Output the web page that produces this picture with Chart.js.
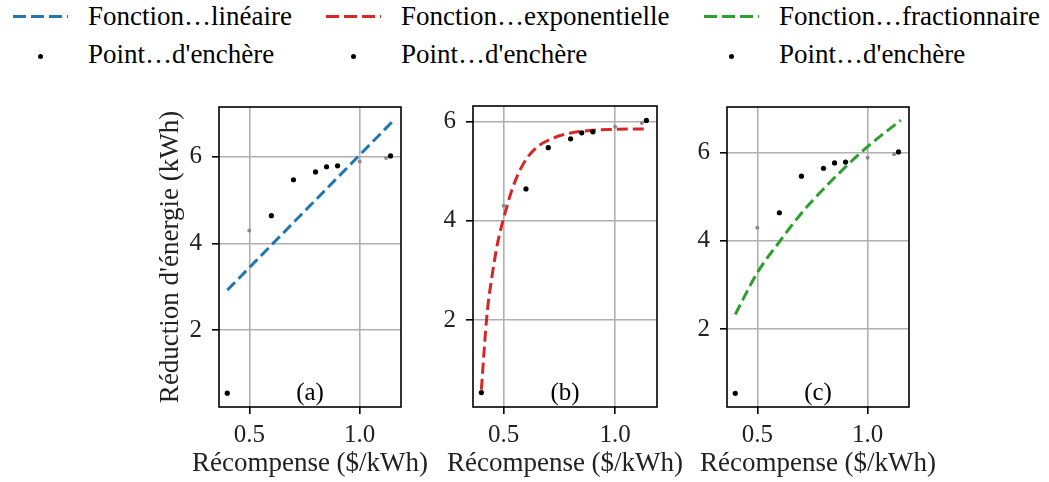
<!DOCTYPE html>
<html>
<head>
<meta charset="utf-8">
<script src="https://cdn.jsdelivr.net/npm/chart.js@4.4.1/dist/chart.umd.min.js"></script>
<style>
  body { margin: 0; width: 1049px; height: 482px; background: #fff; position: relative; overflow: hidden; font-family: 'Liberation Serif', serif; }
  .panel { position: absolute; top: 95px; height: 387px; }
  .leg { position: absolute; font-size: 27px; line-height: 27px; color: #000; white-space: nowrap; }
  .dash { position: absolute; height: 3px; width: 55px; }
  .dot { position: absolute; width: 5px; height: 5px; border-radius: 50%; background: #000; }
</style>
</head>
<body>
<div id="legend"></div>
<canvas id="pa" class="panel" width="300" height="387" style="left:140px"></canvas>
<canvas id="pb" class="panel" width="254" height="387" style="left:436px"></canvas>
<canvas id="pc" class="panel" width="250" height="387" style="left:690px"></canvas>
<script>
// bid points (same in every panel)
const bidX = [0.4, 0.5, 0.6, 0.7, 0.8, 0.85, 0.9, 1.0, 1.12, 1.14];
const bidY = [0.54, 4.3, 4.64, 5.47, 5.65, 5.77, 5.79, 5.89, 5.97, 6.02];

// fitted curves
const linX = [0.4, 1.15];
const linY = [2.92, 6.82];

const expX = [0.4, 0.425, 0.45, 0.475, 0.5, 0.54, 0.58, 0.62, 0.66, 0.7, 0.75, 0.85, 1.0, 1.15];
const expY = [0.6, 2.1, 2.95, 3.6, 4.05, 4.66, 5.08, 5.35, 5.52, 5.62, 5.71, 5.8, 5.84, 5.85];

const fracX = [0.4, 0.5, 0.6, 0.7, 0.8, 0.9, 1.0, 1.15];
const fracY = [2.33, 3.28, 3.98, 4.63, 5.18, 5.68, 6.14, 6.74];

// ticks
const xTicks = [0.5, 1.0];
const xTickLabels = ['0.5', '1.0'];
const yTicks = [2, 4, 6];
const yTickLabels = ['2', '4', '6'];

const seriesNames = ['Fonction…linéaire', 'Fonction…exponentielle', 'Fonction…fractionnaire'];
const pointName = "Point…d'enchère";
const panelTags = ['(a)', '(b)', '(c)'];
const xTitle = 'Récompense ($/kWh)';
const yTitle = "Réduction d'énergie (kWh)";

const colors = ['#1f77b4', '#d62728', '#2ca02c'];
const faintIdx = [1, 7, 8];
const FONT = "'Liberation Serif', serif";

function toXY(xs, ys) {
    return xs.map((x, i) => ({ x: x, y: ys[i] }));
}

// frame box, panel tag and axis titles (drawn here so they are not squeezed)
const framePlugin = {
    id: 'frame',
    afterDraw(chart, args, opts) {
        const { ctx, chartArea: a } = chart;
        ctx.save();
        ctx.strokeStyle = '#000';
        ctx.lineWidth = 1.6;
        ctx.strokeRect(a.left, a.top, a.right - a.left, a.bottom - a.top);
        ctx.fillStyle = '#000';
        ctx.textAlign = 'center';
        ctx.textBaseline = 'alphabetic';
        ctx.font = '25px ' + FONT;
        ctx.fillText(opts.tag, (a.left + a.right) / 2, a.bottom - 7);

        ctx.fillStyle = '#222';
        ctx.font = '27px ' + FONT;
        ctx.fillText(xTitle, (a.left + a.right) / 2, a.bottom + 64);
        if (opts.yTitle) {
            ctx.translate(38, (a.top + a.bottom) / 2);
            ctx.rotate(-Math.PI / 2);
            ctx.fillText(yTitle, 0, 0);
        }
        ctx.restore();
    }
};

function makePanel(id, p) {
    const ctx = document.getElementById(id).getContext('2d');
    new Chart(ctx, {
        type: 'scatter',
        data: {
            datasets: [{
                data: toXY(bidX, bidY),
                pointRadius: c => faintIdx.includes(c.dataIndex) ? 2 : 2.6,
                pointBackgroundColor: c => faintIdx.includes(c.dataIndex) ? '#8a8a8a' : '#000',
                pointBorderWidth: 0,
                showLine: false
            }, {
                data: toXY(p.xs, p.ys),
                showLine: true,
                borderColor: p.color,
                borderWidth: 3,
                borderDash: [11, 5],
                pointRadius: 0,
                cubicInterpolationMode: 'monotone',
                fill: false
            }]
        },
        options: {
            responsive: false,
            animation: false,
            layout: { padding: { left: 0, right: p.padRight, top: p.padTop, bottom: 0 } },
            plugins: {
                legend: { display: false },
                tooltip: { enabled: false },
                frame: { tag: p.tag, yTitle: p.showTitle }
            },
            scales: {
                x: {
                    min: 0.3625, max: 1.1875,
                    afterBuildTicks: axis => { axis.ticks = xTicks.map(v => ({ value: v })); },
                    afterFit: axis => {
                        axis.height = 75;
                        axis.paddingLeft = 0;
                        axis.paddingRight = 0;
                    },
                    grid: { color: '#b0b0b0', lineWidth: 1.6, tickColor: '#000', tickLength: 7, tickWidth: 1.6 },
                    border: { display: false },
                    ticks: {
                        color: '#222', padding: 6, maxRotation: 0,
                        font: { family: FONT, size: 25 },
                        callback: (v, i) => xTickLabels[i]
                    }
                },
                y: {
                    min: p.yMin, max: p.yMax,
                    afterBuildTicks: axis => { axis.ticks = yTicks.map(v => ({ value: v })); },
                    afterFit: axis => {
                        axis.width = p.yWidth;
                        axis.paddingTop = 0;
                        axis.paddingBottom = 0;
                    },
                    grid: { color: '#b0b0b0', lineWidth: 1.6, tickColor: '#000', tickLength: 7, tickWidth: 1.6 },
                    border: { display: false },
                    ticks: {
                        color: '#222', padding: 10,
                        font: { family: FONT, size: 25 },
                        callback: (v, i) => yTickLabels[i]
                    }
                }
            }
        },
        plugins: [framePlugin]
    });
}

makePanel('pa', { xs: linX, ys: linY, color: colors[0], tag: panelTags[0], yMin: 0.22, yMax: 7.15, yWidth: 79, padRight: 39, padTop: 12, showTitle: true });
makePanel('pb', { xs: expX, ys: expY, color: colors[1], tag: panelTags[1], yMin: 0.25, yMax: 6.31, yWidth: 37, padRight: 33, padTop: 11, showTitle: false });
makePanel('pc', { xs: fracX, ys: fracY, color: colors[2], tag: panelTags[2], yMin: 0.23, yMax: 7.04, yWidth: 37, padRight: 31, padTop: 12, showTitle: false });

// legend: 3 columns, line on the first row, bid points on the second
const legendCols = [13, 326, 704];
const legend = document.getElementById('legend');
seriesNames.forEach((name, i) => {
    const x = legendCols[i];
    const d = document.createElement('div');
    d.className = 'dash';
    d.style.left = x + 'px';
    d.style.top = '15px';
    d.style.background = 'repeating-linear-gradient(to right, ' + colors[i] + ' 0 13px, transparent 13px 18px)';
    legend.appendChild(d);

    const t1 = document.createElement('div');
    t1.className = 'leg';
    t1.style.left = (x + 75) + 'px';
    t1.style.top = '3px';
    t1.textContent = name;
    legend.appendChild(t1);

    const dot = document.createElement('div');
    dot.className = 'dot';
    dot.style.left = (x + 25) + 'px';
    dot.style.top = '54px';
    legend.appendChild(dot);

    const t2 = document.createElement('div');
    t2.className = 'leg';
    t2.style.left = (x + 75) + 'px';
    t2.style.top = '41px';
    t2.textContent = pointName;
    legend.appendChild(t2);
});
</script>
</body>
</html>
